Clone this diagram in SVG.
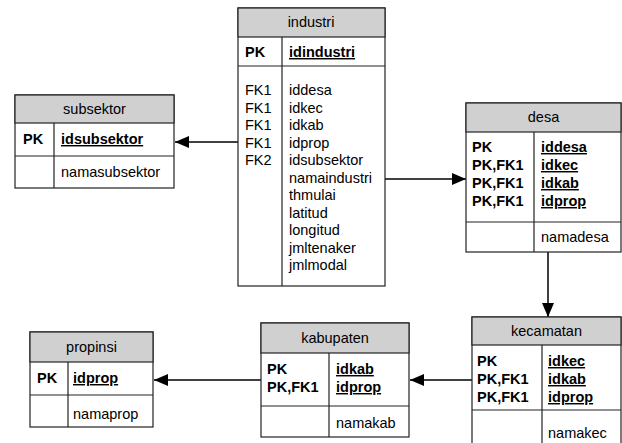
<svg xmlns="http://www.w3.org/2000/svg" width="622" height="443" viewBox="0 0 622 443">
<style>
text{font-family:"Liberation Sans",Arial,sans-serif;font-size:14.5px;fill:#000}
.h{text-anchor:middle}
.b{font-weight:bold}
.u{font-weight:bold;text-decoration:underline}
.box{fill:#fff;stroke:#222;stroke-width:1.2}
.hd{fill:#d0d0d0;stroke:#222;stroke-width:1.2}
.ln{stroke:#222;stroke-width:1.2;fill:none}
.c{stroke:#000;stroke-width:1.5;fill:none}
</style>
<defs>
<marker id="ar" viewBox="0 0 14 12" refX="14" refY="6" markerWidth="14" markerHeight="12" markerUnits="userSpaceOnUse" orient="auto">
<path d="M0,0 L14,6 L0,12 Z" fill="#000"/>
</marker>
</defs>
<g id="connectors">
<line class="c" x1="238" y1="142" x2="175" y2="142" marker-end="url(#ar)"/>
<line class="c" x1="385" y1="179" x2="466" y2="179" marker-end="url(#ar)"/>
<line class="c" x1="548" y1="252" x2="548" y2="317" marker-end="url(#ar)"/>
<line class="c" x1="472" y1="380" x2="410" y2="380" marker-end="url(#ar)"/>
<line class="c" x1="261" y1="380" x2="154" y2="380" marker-end="url(#ar)"/>
</g>
<g id="industri">
<rect class="box" x="238" y="8" width="147" height="278"/>
<rect class="hd" x="238" y="8" width="147" height="29"/>
<line class="ln" x1="238" y1="66" x2="385" y2="66"/>
<line class="ln" x1="282" y1="37" x2="282" y2="286"/>
<text class="h" x="311" y="27">industri</text>
<text class="b" x="245" y="57">PK</text>
<text class="u" x="289" y="57">idindustri</text>
<text x="245" y="95">FK1</text>
<text x="245" y="112.5">FK1</text>
<text x="245" y="130">FK1</text>
<text x="245" y="147.5">FK1</text>
<text x="245" y="165">FK2</text>
<text x="289" y="95">iddesa</text>
<text x="289" y="112.5">idkec</text>
<text x="289" y="130">idkab</text>
<text x="289" y="147.5">idprop</text>
<text x="289" y="165">idsubsektor</text>
<text x="289" y="182.5">namaindustri</text>
<text x="289" y="200">thmulai</text>
<text x="289" y="217.5">latitud</text>
<text x="289" y="235">longitud</text>
<text x="289" y="252.5">jmltenaker</text>
<text x="289" y="270">jmlmodal</text>
</g>
<g id="subsektor">
<rect class="box" x="15" y="95" width="159" height="93"/>
<rect class="hd" x="15" y="95" width="159" height="28"/>
<line class="ln" x1="15" y1="156" x2="174" y2="156"/>
<line class="ln" x1="54" y1="123" x2="54" y2="188"/>
<text class="h" x="94.5" y="114">subsektor</text>
<text class="b" x="23" y="144">PK</text>
<text class="u" x="61" y="144">idsubsektor</text>
<text x="61" y="177">namasubsektor</text>
</g>
<g id="desa">
<rect class="box" x="466" y="103" width="155" height="149"/>
<rect class="hd" x="466" y="103" width="155" height="29"/>
<line class="ln" x1="466" y1="222" x2="621" y2="222"/>
<line class="ln" x1="534" y1="132" x2="534" y2="252"/>
<text class="h" x="543.5" y="122">desa</text>
<text class="b" x="472" y="152">PK</text>
<text class="b" x="472" y="170">PK,FK1</text>
<text class="b" x="472" y="188">PK,FK1</text>
<text class="b" x="472" y="206">PK,FK1</text>
<text class="u" x="541" y="152">iddesa</text>
<text class="u" x="541" y="170">idkec</text>
<text class="u" x="541" y="188">idkab</text>
<text class="u" x="541" y="206">idprop</text>
<text x="541" y="242">namadesa</text>
</g>
<g id="kecamatan">
<rect class="box" x="472" y="317" width="149" height="140"/>
<rect class="hd" x="472" y="317" width="149" height="28"/>
<line class="ln" x1="472" y1="410" x2="621" y2="410"/>
<line class="ln" x1="542" y1="345" x2="542" y2="457"/>
<text class="h" x="546.5" y="336">kecamatan</text>
<text class="b" x="477" y="366">PK</text>
<text class="b" x="477" y="384">PK,FK1</text>
<text class="b" x="477" y="402">PK,FK1</text>
<text class="u" x="548" y="366">idkec</text>
<text class="u" x="548" y="384">idkab</text>
<text class="u" x="548" y="402">idprop</text>
<text x="548" y="438">namakec</text>
</g>
<g id="kabupaten">
<rect class="box" x="261" y="323" width="148" height="114"/>
<rect class="hd" x="261" y="323" width="148" height="30"/>
<line class="ln" x1="261" y1="406" x2="409" y2="406"/>
<line class="ln" x1="329" y1="353" x2="329" y2="437"/>
<text class="h" x="335" y="343">kabupaten</text>
<text class="b" x="267" y="374">PK</text>
<text class="b" x="267" y="392">PK,FK1</text>
<text class="u" x="336" y="374">idkab</text>
<text class="u" x="336" y="392">idprop</text>
<text x="336" y="428">namakab</text>
</g>
<g id="propinsi">
<rect class="box" x="30" y="332" width="123" height="95"/>
<rect class="hd" x="30" y="332" width="123" height="30"/>
<line class="ln" x1="30" y1="395" x2="153" y2="395"/>
<line class="ln" x1="68" y1="362" x2="68" y2="427"/>
<text class="h" x="91.5" y="352">propinsi</text>
<text class="b" x="37" y="383">PK</text>
<text class="u" x="73" y="383">idprop</text>
<text x="73" y="419">namaprop</text>
</g>
</svg>
